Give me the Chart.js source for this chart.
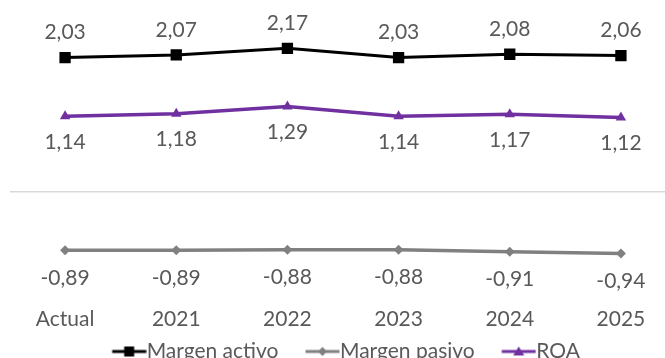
<!DOCTYPE html>
<html>
<head>
<meta charset="utf-8">
<script src="https://cdn.jsdelivr.net/npm/chart.js@4/dist/chart.umd.min.js"></script>
<style>
  html, body { margin: 0; padding: 0; background: #ffffff; overflow: hidden; }
  #wrap { width: 686px; height: 372px; position: relative; }
</style>
</head>
<body>
<div id="wrap"><canvas id="chart"></canvas></div>
<script>
// Categories and series
const categories = ['Actual', '2021', '2022', '2023', '2024', '2025'];
const margenActivo = [2.03, 2.07, 2.17, 2.03, 2.08, 2.06];
const margenPasivo = [-0.89, -0.89, -0.88, -0.88, -0.91, -0.94];
const roa = [1.14, 1.18, 1.29, 1.14, 1.17, 1.12];
const seriesNames = ['Margen activo', 'Margen pasivo', 'ROA'];

const FONT = 'Lato, "Open Sans", sans-serif';
const TEXT = '#595959';
const SIZE = 21;

const fmt = v => v.toFixed(2).replace('.', ',');

// Legend icon: a short line with the series marker in its middle
function legendIcon(color, marker) {
  const c = document.createElement('canvas');
  c.width = 66; c.height = 14;
  const g = c.getContext('2d');
  const x0 = 33 - 1.5, x1 = 33 + 32.5, cy = 7;
  g.strokeStyle = color; g.lineWidth = 3;
  g.beginPath(); g.moveTo(x0, cy); g.lineTo(x1, cy); g.stroke();
  const mx = (x0 + x1) / 2;
  g.fillStyle = color;
  g.beginPath();
  if (marker === 'square') {
    g.rect(mx - 5, cy - 5, 10, 10);
  } else if (marker === 'diamond') {
    g.moveTo(mx, cy - 4.5); g.lineTo(mx + 4.5, cy); g.lineTo(mx, cy + 4.5); g.lineTo(mx - 4.5, cy);
  } else {
    g.moveTo(mx, cy - 5); g.lineTo(mx + 5.5, cy + 4); g.lineTo(mx - 5.5, cy + 4);
  }
  g.closePath(); g.fill();
  return c;
}

// Value labels drawn next to every point
const valueLabels = {
  id: 'valueLabels',
  afterDatasetsDraw(chart) {
    const ctx = chart.ctx;
    ctx.save();
    ctx.font = SIZE + 'px ' + FONT;
    ctx.fillStyle = TEXT;
    ctx.textAlign = 'center';
    ctx.textBaseline = 'middle';
    chart.data.datasets.forEach((ds, di) => {
      const meta = chart.getDatasetMeta(di);
      meta.data.forEach((pt, i) => {
        ctx.fillText(fmt(ds.data[i]), pt.x, pt.y + ds.labelShift);
      });
    });
    ctx.restore();
  }
};

// The legend icons start inside each item's box, so nudge the row left to keep it centred
const legendNudge = {
  id: 'legendNudge',
  afterLayout(chart) {
    const l = chart.legend;
    if (l) { l.left -= 7.5; l.right -= 7.5; }
  }
};

function build() {
  const icons = [
    legendIcon('#000000', 'square'),
    legendIcon('#808080', 'diamond'),
    legendIcon('#7030A0', 'triangle')
  ];

  new Chart(document.getElementById('chart'), {
    type: 'line',
    data: {
      labels: categories,
      datasets: [
        {
          label: seriesNames[0], data: margenActivo,
          borderColor: '#000000', backgroundColor: '#000000', borderWidth: 3,
          pointStyle: 'rect', pointRadius: 8, pointHoverRadius: 8, pointBorderWidth: 0,
          labelShift: -25
        },
        {
          label: seriesNames[1], data: margenPasivo,
          borderColor: '#808080', backgroundColor: '#808080', borderWidth: 3.5,
          pointStyle: 'rectRot', pointRadius: 5, pointHoverRadius: 5, pointBorderWidth: 0,
          labelShift: 28
        },
        {
          label: seriesNames[2], data: roa,
          borderColor: '#7030A0', backgroundColor: '#7030A0', borderWidth: 3.5,
          pointStyle: 'triangle', pointRadius: 6, pointHoverRadius: 6, pointBorderWidth: 0,
          labelShift: 26
        }
      ]
    },
    options: {
      responsive: true,
      maintainAspectRatio: false,
      animation: false,
      events: [],
      layout: { padding: { left: 9.5, right: 9.5, top: 10, bottom: 0 } },
      elements: { line: { tension: 0 } },
      scales: {
        x: {
          offset: true,
          grid: { display: false, drawTicks: false },
          border: { display: false },
          ticks: { color: TEXT, font: { family: FONT, size: SIZE }, padding: 3, maxRotation: 0 }
        },
        y: {
          min: -1.7, max: 2.75,
          afterBuildTicks: s => { s.ticks = [{ value: 0 }]; },
          grid: { color: '#d9d9d9', lineWidth: 1.5, drawTicks: false },
          border: { display: false },
          ticks: { display: false }
        }
      },
      plugins: {
        tooltip: { enabled: false },
        legend: {
          position: 'bottom',
          labels: {
            usePointStyle: true,
            pointStyleWidth: 45,
            padding: 6,
            color: TEXT,
            font: { family: FONT, size: SIZE },
            generateLabels(chart) {
              const items = Chart.defaults.plugins.legend.labels.generateLabels(chart);
              items.forEach((it, i) => { it.pointStyle = icons[i]; it.fontColor = TEXT; });
              return items;
            }
          }
        }
      }
    },
    plugins: [valueLabels, legendNudge]
  });
}

if (document.fonts && document.fonts.load) {
  document.fonts.load(SIZE + 'px Lato').then(build, build);
} else {
  build();
}
</script>
</body>
</html>
